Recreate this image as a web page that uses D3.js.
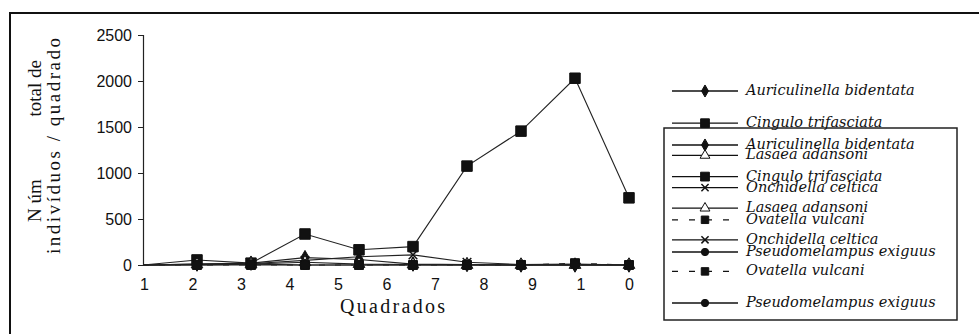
<!DOCTYPE html>
<html>
<head>
<meta charset="utf-8">
<script src="https://cdn.jsdelivr.net/npm/d3@7"></script>
<style>
  body { margin: 0; background: #fff; }
  svg { display: block; }
</style>
</head>
<body>
<div id="chart"></div>
<script>
'use strict'
// categories (quadrados) and axis labels
var quadrados = [1, 2, 3, 4, 5, 6, 7, 8, 9, 10]
var xLabels = ['1', '2', '3', '4', '5', '6', '7', '8', '9', '1', '0']
var yTicks = [0, 500, 1000, 1500, 2000, 2500]

// series values
var auriculinella = [0, 10, 20, 80, 60, 10, 5, 0, 0, 0]
var cingulo = [0, 55, 20, 337, 165, 200, 1075, 1455, 2030, 730]
var lasaea = [0, 5, 10, 30, 10, 5, 0, 0, 0, 0]
var onchidella = [0, 10, 15, 50, 90, 110, 30, 5, 10, 0]
var ovatella = [0, 0, 0, 0, 0, 0, 0, 0, 20, 0]
var pseudomelampus = [0, 0, 10, 0, 0, 0, 0, 0, 0, 0]

var seriesNames = [
  'Auriculinella bidentata',
  'Cingulo trifasciata',
  'Lasaea adansoni',
  'Onchidella celtica',
  'Ovatella vulcani',
  'Pseudomelampus exiguus'
]
var seriesValues = [auriculinella, cingulo, lasaea, onchidella, ovatella, pseudomelampus]

var W = 979, H = 334
var svg = d3.select('#chart').append('svg').attr('width', W).attr('height', H)

// outer frame
svg.append('rect')
  .attr('x', 10).attr('y', 13).attr('width', 1000).attr('height', 400)
  .attr('fill', 'none').attr('stroke', '#111').attr('stroke-width', 2)

var x = d3.scalePoint().domain(d3.range(quadrados.length)).range([143, 629])
var xl = d3.scalePoint().domain(d3.range(xLabels.length)).range([144, 629])
var y = d3.scaleLinear().domain([0, 2500]).range([265, 35])

var sans = 'Liberation Sans, Arial, sans-serif'
var serif = 'Liberation Serif, Times New Roman, serif'

// y axis
var yAxis = svg.append('g').attr('transform', 'translate(143,0)')
  .call(d3.axisLeft(y).tickValues(yTicks).tickSize(5).tickPadding(6).tickFormat(d3.format('d')))
yAxis.select('.domain').attr('stroke', '#222').attr('stroke-width', 1.2)
yAxis.selectAll('.tick line').attr('stroke', '#222')
yAxis.selectAll('text')
  .attr('font-family', sans)
  .attr('font-size', 16).attr('fill', '#111')

// x axis
var xAxis = svg.append('g').attr('transform', 'translate(0,265)')
  .call(d3.axisBottom(xl).tickSize(0).tickPadding(14).tickFormat(i => xLabels[i]))
xAxis.select('.domain').attr('stroke', '#222').attr('stroke-width', 1.2)
  .attr('d', 'M143,0H630')
xAxis.selectAll('text')
  .attr('font-family', sans)
  .attr('font-size', 16).attr('fill', '#111')

// axis titles
svg.append('text')
  .attr('x', 340).attr('y', 313)
  .attr('font-family', serif)
  .attr('font-size', 20).attr('fill', '#111')
  .attr('textLength', 105)
  .text('Quadrados')

var ytitle = svg.append('g').attr('transform', 'rotate(-90)')
ytitle.append('text')
  .attr('x', -222).attr('y', 41)
  .attr('font-family', serif)
  .attr('font-size', 19).attr('fill', '#111')
  .text('N úm')
ytitle.append('text')
  .attr('x', -60).attr('y', 41)
  .attr('text-anchor', 'end')
  .attr('font-family', serif)
  .attr('font-size', 19).attr('fill', '#111')
  .text('total de')
ytitle.append('text')
  .attr('x', -254).attr('y', 60)
  .attr('font-family', serif)
  .attr('font-size', 19).attr('fill', '#111')
  .attr('textLength', 216)
  .text('indivíduos / quadrado')

// marker styles
var styles = [
  { sym: d3.symbolDiamond, size: 60, fill: '#111', dash: null },
  { sym: d3.symbolSquare, size: 110, fill: '#111', dash: null },
  { sym: d3.symbolTriangle, size: 60, fill: '#fff', dash: null },
  { sym: d3.symbolTimes, size: 50, fill: 'none', dash: null },
  { sym: d3.symbolSquare, size: 80, fill: '#111', dash: '6,10' },
  { sym: d3.symbolCircle, size: 60, fill: '#111', dash: null }
]

function drawMarker (g, st, cx, cy, scale) {
  g.append('path')
    .attr('d', d3.symbol().type(st.sym).size(st.size * (scale || 1))())
    .attr('transform', `translate(${cx},${cy})`)
    .attr('fill', st.fill)
    .attr('stroke', '#111')
    .attr('stroke-width', st.fill === 'none' ? 1.5 : 1)
}

var line = d3.line().x((d, i) => x(i)).y(d => y(d))
var plot = svg.append('g')
seriesValues.forEach((vals, s) => {
  var st = styles[s]
  plot.append('path')
    .attr('d', line(vals))
    .attr('fill', 'none')
    .attr('stroke', '#222')
    .attr('stroke-width', 1.1)
    .attr('stroke-dasharray', st.dash)
})
seriesValues.forEach((vals, s) => {
  vals.forEach((v, i) => {
    if (i === 0) return
    drawMarker(plot, styles[s], x(i), y(v))
  })
})

// legends: two overlapping copies, the second one boxed
svg.append('rect')
  .attr('x', 664).attr('y', 128).attr('width', 293).attr('height', 192)
  .attr('fill', 'none').attr('stroke', '#222').attr('stroke-width', 1.5)

function drawLegend (top, step) {
  var g = svg.append('g')
  seriesNames.forEach((name, s) => {
    var st = styles[s]
    var ly = top + s * step
    g.append('line')
      .attr('x1', 672).attr('x2', 738).attr('y1', ly).attr('y2', ly)
      .attr('stroke', '#111').attr('stroke-width', 1.3)
      .attr('stroke-dasharray', st.dash ? '6,11' : null)
    drawMarker(g, st, 705, ly, 0.7)
    g.append('text')
      .attr('x', 746).attr('y', ly + 4)
      .attr('font-family', 'DejaVu Serif, serif')
      .attr('font-style', 'italic')
      .attr('font-size', 14.5).attr('fill', '#111')
      .text(name)
  })
}
drawLegend(91, 32.2)
drawLegend(145, 31.6)
</script>
</body>
</html>
